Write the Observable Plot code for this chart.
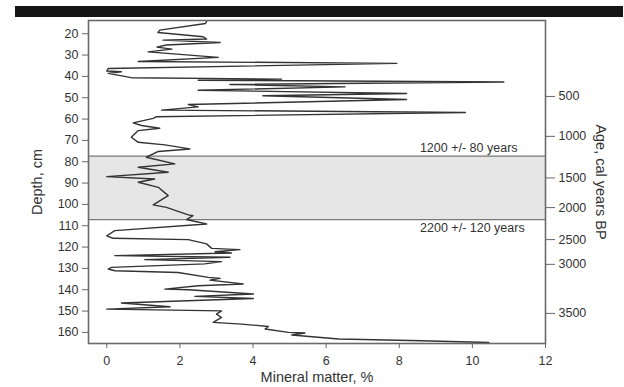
<!DOCTYPE html>
<html>
<head>
<meta charset="utf-8">
<script src="https://cdn.jsdelivr.net/npm/d3@7"></script>
<script src="https://cdn.jsdelivr.net/npm/@observablehq/plot@0.6"></script>
<style>
  html, body { margin: 0; padding: 0; background: white; }
  #wrap { position: relative; width: 624px; height: 387px; }
  #bar { position: absolute; left: 15px; top: 6px; width: 608px; height: 11px; background: #141414; }
  #chart { position: absolute; left: 0; top: 0; }
</style>
</head>
<body>
<div id="wrap"><div id="chart"></div><div id="bar"></div></div>
<script>
// Mineral matter (%) read along the core, with depth (cm)
const mineral = [2.73, 2.70, 1.45, 1.40, 2.64, 2.73, 1.54, 3.10, 1.63, 1.37, 1.78, 1.13, 3.05, 0.86, 7.93,
  0.04, 0.00, 0.40, 0.04, 0.67, 4.78, 2.50, 10.86, 3.37, 6.52, 2.50, 8.20, 4.27, 8.20, 2.23, 2.50, 1.50, 9.81,
  1.36, 1.27, 0.72, 0.95, 1.45, 0.86, 0.67, 0.86, 1.59, 2.27, 1.41, 1.08, 1.86, 0.86, 1.68, 0.00, 1.31, 0.86,
  1.41, 1.68, 1.27, 1.63, 2.23, 2.36, 2.18, 2.73, 0.22, 0.00, 0.17, 2.23, 2.73, 2.87, 3.64, 2.96, 3.41, 0.22,
  3.37, 1.04, 3.14, 2.68, 0.13, 0.04, 0.22, 1.95, 2.78, 3.10, 2.82, 3.73, 2.50, 1.59, 2.23, 4.01, 2.41, 4.01,
  0.40, 1.73, 0.00, 3.14, 3.00, 3.14, 2.91, 3.69, 4.42, 4.33, 4.97, 5.42, 5.06, 6.34, 8.62, 10.45];
const depth = [14.2, 15.2, 18.3, 19.4, 21.4, 22.5, 23.0, 24.1, 25.3, 26.3, 27.2, 28.5, 31.1, 33.0, 33.9,
  36.3, 37.5, 37.8, 38.6, 40.6, 41.3, 41.8, 42.6, 43.8, 44.9, 46.5, 48.0, 49.1, 50.8, 53.2, 54.3, 55.8, 56.9,
  58.9, 59.7, 61.8, 63.0, 64.3, 65.4, 68.5, 70.9, 72.1, 74.0, 75.2, 77.9, 81.0, 82.6, 84.9, 87.0, 88.1, 89.6,
  92.0, 95.9, 100.2, 101.4, 104.9, 105.3, 107.1, 109.2, 112.3, 114.7, 115.9, 116.5, 118.5, 120.6, 121.2, 122.2, 122.8, 124.0,
  124.8, 125.9, 126.8, 127.9, 129.5, 130.3, 131.1, 131.9, 134.2, 134.7, 135.5, 137.3, 138.1, 139.7, 140.0, 142.0, 143.1, 144.1,
  146.2, 148.0, 149.1, 149.9, 151.4, 153.0, 155.3, 156.1, 157.2, 158.4, 160.0, 160.3, 161.2, 163.1, 163.9, 164.7];

// Depth axis ticks and mineral-matter ticks
const depthTicks = [20, 30, 40, 50, 60, 70, 80, 90, 100, 110, 120, 130, 140, 150, 160];
const mineralTicks = [0, 2, 4, 6, 8, 10, 12];

// Age scale (right axis): depth positions of calibrated ages
const ageDepths = [49.4, 68.1, 87.6, 101.5, 116.5, 128.1, 151.1];
const ageLabels = ["500", "1000", "1500", "2000", "2500", "3000", "3500"];

// Dated interval (depths of the two dates) and their labels
const datedDepths = [77.4, 107.1];
const datedLabels = ["1200 +/- 80 years", "2200 +/- 120 years"];

const xTitle = "Mineral matter, %";
const yTitle = "Depth, cm";
const ageTitle = "Age, cal years BP";

const points = mineral.map((m, i) => ({mineral: m, depth: depth[i]}));
const ageMap = new Map(ageDepths.map((d, i) => [d, ageLabels[i]]));

const font = "'Liberation Sans', Arial, sans-serif";

const chart = Plot.plot({
  width: 624,
  height: 387,
  marginLeft: 88,
  marginRight: 79,
  marginTop: 20,
  marginBottom: 44,
  style: {fontFamily: font, fontSize: "12.5px", color: "#333", background: "white", overflow: "visible"},
  x: {domain: [-0.5, 12]},
  y: {domain: [13.8, 165.2], reverse: true},
  marks: [
    Plot.rect([datedDepths], {y1: d => d[0], y2: d => d[1], fill: "#e6e6e6"}),
    Plot.ruleY(datedDepths, {stroke: "#7a7a7a", strokeWidth: 1.3}),
    Plot.line(points, {x: "mineral", y: "depth", stroke: "#333", strokeWidth: 1.4, curve: "linear"}),
    Plot.frame({stroke: "#6a6a6a", strokeWidth: 1.6}),
    Plot.axisY({anchor: "left", ticks: depthTicks, tickSize: 6, tickPadding: 4, label: null, stroke: "#666", fontSize: 12.5}),
    Plot.axisY({anchor: "right", ticks: ageDepths, tickFormat: d => ageMap.get(d), tickSize: 9, tickPadding: 4, label: null, stroke: "#666", fontSize: 12.5}),
    Plot.axisX({anchor: "bottom", ticks: mineralTicks, tickSize: 5, tickPadding: 8, label: null, stroke: "#666", fontSize: 12.5}),
    Plot.text([datedLabels[0]], {text: d => d, x: 9.9, y: datedDepths[0], dy: -4, lineAnchor: "bottom", fontSize: 12.5, fill: "#333"}),
    Plot.text([datedLabels[1]], {text: d => d, x: 10.0, y: datedDepths[1], dy: 4, lineAnchor: "top", fontSize: 12.5, fill: "#333"}),
    Plot.text([xTitle], {text: d => d, frameAnchor: "bottom", textAnchor: "middle", dy: 38, fontSize: 14.5, fill: "#333"}),
    Plot.text([yTitle], {text: d => d, frameAnchor: "left", textAnchor: "middle", dx: -51, rotate: -90, fontSize: 14.5, fill: "#333"}),
    Plot.text([ageTitle], {text: d => d, frameAnchor: "right", textAnchor: "middle", dx: 55, rotate: 90, fontSize: 14.5, fill: "#333"})
  ]
});
document.getElementById("chart").appendChild(chart);
</script>
</body>
</html>
